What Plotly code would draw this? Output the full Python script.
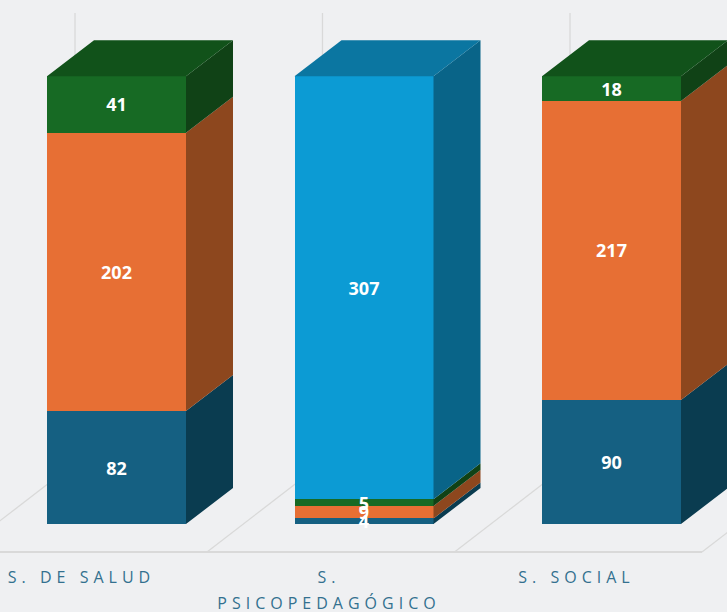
import plotly.graph_objects as go

categories = ["S. DE SALUD", "S.<br>PSICOPEDAGÓGICO", "S. SOCIAL"]
serie_a = [82, 4, 90]
serie_b = [202, 9, 217]
serie_c = [41, 5, 18]
serie_d = [None, 307, None]

series = [serie_a, serie_b, serie_c, serie_d]
front = ["#156082", "#E76F34", "#176A24", "#0C9BD4"]
side = ["#0A3C50", "#8D471E", "#104216", "#096488"]
top = ["#0D4C66", "#B35A27", "#11521A", "#0B76A1"]
BG = "#EFF0F2"
GRID = "#D9D9D9"

PX_X = 247.5   # px per category
PX_Y = 1.378   # px per value unit
BAR_W = 139 / PX_X
DX, DY = 47 / PX_X, 36 / PX_Y
LABEL_SHIFT = 35 / PX_X
TEXT_DROP = 2.5 / PX_Y
x = list(range(len(categories)))
xr = [-116.5 / PX_X, (727 - 116.5) / PX_X]
yr = [-32 / PX_Y, 524 / PX_Y]
floor_y = -28 / PX_Y

fig = go.Figure()
for vals, c in zip(series, front):
    fig.add_bar(x=x, y=vals, width=BAR_W, marker=dict(color=c, line=dict(width=0)),
                hoverinfo="y")

base = [0] * len(x)
last = [None] * len(x)
lx, ly, lt = [], [], []
for k, vals in enumerate(series):
    px, py = [], []
    for i, v in enumerate(vals):
        if not v:
            continue
        r = i + BAR_W / 2
        px += [r, r + DX, r + DX, r, r, None]
        py += [base[i], base[i] + DY, base[i] + v + DY, base[i] + v, base[i], None]
        lx.append(i)
        ly.append(base[i] + v / 2 - TEXT_DROP)
        lt.append(str(v))
        base[i] += v
        last[i] = k
    fig.add_scatter(x=px, y=py, mode="lines", fill="toself", fillcolor=side[k],
                    line=dict(width=0), hoverinfo="skip")
for k in range(len(series)):
    px, py = [], []
    for i in x:
        if last[i] != k:
            continue
        l, r = i - BAR_W / 2, i + BAR_W / 2
        h = base[i]
        px += [l, r, r + DX, l + DX, l, None]
        py += [h, h, h + DY, h + DY, h, None]
    if px:
        fig.add_scatter(x=px, y=py, mode="lines", fill="toself", fillcolor=top[k],
                        line=dict(width=0), hoverinfo="skip")

fig.add_scatter(x=lx, y=ly, text=lt, mode="text", textposition="middle center",
                cliponaxis=False, hoverinfo="skip",
                textfont=dict(color="white", size=18, family="Open Sans", weight=700))

shapes = []
floor_left = -157 / PX_X
wall_dx = 115.5 / PX_X
wall_dy = 89 / PX_Y
for i in x + [3]:
    f = i + floor_left
    shapes.append(dict(type="line", xref="x", yref="y", layer="below",
                       x0=f, y0=floor_y, x1=f + wall_dx, y1=floor_y + wall_dy,
                       line=dict(color=GRID, width=1.3)))
    if i < 3:
        shapes.append(dict(type="line", xref="x", yref="y", layer="below",
                           x0=f + wall_dx, y0=floor_y + wall_dy, x1=f + wall_dx, y1=511 / PX_Y,
                           line=dict(color=GRID, width=1.3)))
shapes.append(dict(type="line", xref="x", yref="y", layer="below",
                   x0=xr[0], y0=floor_y, x1=3 + floor_left, y1=floor_y,
                   line=dict(color=GRID, width=2)))

fig.update_layout(
    width=727, height=612, margin=dict(l=0, r=0, t=0, b=56),
    paper_bgcolor=BG, plot_bgcolor=BG, barmode="stack", showlegend=False,
    shapes=shapes,
    xaxis=dict(range=xr, tickvals=[i - LABEL_SHIFT for i in x], ticktext=categories,
               showgrid=False, zeroline=False,
               showline=False, ticks="", ticklabelstandoff=10, tickangle=0,
               tickfont=dict(family="Open Sans", size=16, color="#33708F")),
    yaxis=dict(range=yr, visible=False, showgrid=False, zeroline=False),
)

post = """
document.body.style.margin = '0';
document.body.style.overflow = 'hidden';
var st = document.createElement('style');
st.textContent = '.xtick text { letter-spacing: 5px; }';
document.head.appendChild(st);
function fixLines() {
  document.querySelectorAll('.xtick tspan.line').forEach(function (t) {
    if (t.getAttribute('dy') && t.getAttribute('dy') !== '0em') t.setAttribute('dy', '1.6em');
  });
}
fixLines();
setTimeout(fixLines, 50);
"""
fig.write_html("out.html", post_script=post, config={"displayModeBar": False})
